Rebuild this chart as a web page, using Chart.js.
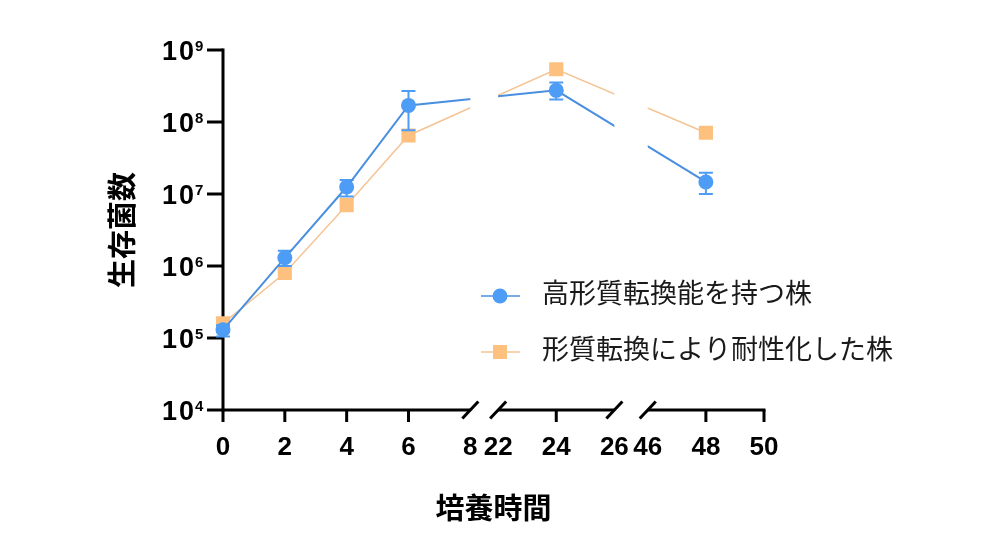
<!DOCTYPE html>
<html lang="ja">
<head>
<meta charset="utf-8">
<title>生存菌数</title>
<script src="https://cdn.jsdelivr.net/npm/chart.js@4.4.1/dist/chart.umd.min.js"></script>
<style>
  html, body { margin: 0; padding: 0; background: #fff; }
  #wrap { width: 1000px; height: 560px; }
</style>
</head>
<body>
<div id="wrap"><canvas id="survivalChart" width="1000" height="560"></canvas></div>
<script>
// Culture time (h) and viable counts
const hours = [0, 2, 4, 6, 24, 48];
const highStrain = [1.3e5, 1.3e6, 1.25e7, 1.7e8, 2.75e8, 1.47e7];
const highStrainUpper = [1.5e5, 1.63e6, 1.56e7, 2.7e8, 3.55e8, 1.98e7];
const highStrainLower = [1.05e5, 1.0e6, 9.2e6, 7.7e7, 2.05e8, 1.0e7];
const resistantStrain = [1.6e5, 8.0e5, 7.0e6, 6.5e7, 5.4e8, 7.1e7];

const seriesLabels = ['高形質転換能を持つ株', '形質転換により耐性化した株'];
const tickHours = [0, 2, 4, 6, 8, 22, 24, 26, 46, 48, 50];
const yExponents = [4, 5, 6, 7, 8, 9];

// Broken x axis: three pieces of the time axis laid side by side
const segments = [
    { from: 0, to: 8, start: 0, k: 1 },
    { from: 22, to: 26, start: 8.9, k: 0.94 },
    { from: 46, to: 50, start: 13.74, k: 0.94 }
];

function toAxis(h) {
    const seg = segments.find(s => h >= s.from && h <= s.to);
    return seg.start + (h - seg.from) * seg.k;
}

const BLUE_LINE = '#4a8fe0';
const BLUE_POINT = '#4d9cf5';
const ORANGE_LINE = '#f5c494';
const ORANGE_POINT = '#fdc07f';

const brokenAxis = {
    id: 'brokenAxis',
    beforeDatasetsDraw(chart) {
        const { ctx, chartArea, scales: { x, y } } = chart;
        ctx.save();
        ctx.strokeStyle = '#000';
        ctx.fillStyle = '#000';
        ctx.lineWidth = 3;

        // y axis + labels 10^n
        ctx.beginPath();
        ctx.moveTo(chartArea.left, chartArea.top - 1.5);
        ctx.lineTo(chartArea.left, chartArea.bottom + 1.5);
        ctx.stroke();
        yExponents.forEach(e => {
            const py = y.getPixelForValue(Math.pow(10, e));
            ctx.beginPath();
            ctx.moveTo(chartArea.left - 16, py);
            ctx.lineTo(chartArea.left, py);
            ctx.stroke();
            ctx.textBaseline = 'alphabetic';
            ctx.textAlign = 'right';
            ctx.font = 'bold 27px "Liberation Sans", Arial, sans-serif';
            if ('letterSpacing' in ctx) ctx.letterSpacing = '2px';
            ctx.fillText('10', chartArea.left - 27, py + 9.5);
            if ('letterSpacing' in ctx) ctx.letterSpacing = '0px';
            ctx.textAlign = 'left';
            ctx.font = 'bold 15px "Liberation Sans", Arial, sans-serif';
            ctx.fillText(String(e), chartArea.left - 28, py + 1);
        });

        // x axis pieces with break marks
        const base = chartArea.bottom;
        segments.forEach((s, i) => {
            const x0 = i === 0 ? chartArea.left : x.getPixelForValue(toAxis(s.from));
            const x1 = x.getPixelForValue(toAxis(s.to));
            ctx.beginPath();
            ctx.moveTo(x0, base);
            ctx.lineTo(i === segments.length - 1 ? x1 + 1.5 : x1, base);
            ctx.stroke();
            if (i > 0) drawSlash(ctx, x0, base);
            if (i < segments.length - 1) drawSlash(ctx, x1, base);
        });
        tickHours.forEach(h => {
            const inner = segments.some((s, i) =>
                (h === s.to && i < segments.length - 1) || (h === s.from && i > 0));
            if (inner) return;
            const px = x.getPixelForValue(toAxis(h));
            ctx.beginPath();
            ctx.moveTo(px, base);
            ctx.lineTo(px, base + 12);
            ctx.stroke();
        });
        ctx.restore();

        // hide the lines inside the breaks
        ctx.save();
        ctx.beginPath();
        segments.forEach((s, i) => {
            const x0 = i === 0 ? 0 : x.getPixelForValue(toAxis(s.from));
            const x1 = i === segments.length - 1 ? chart.width : x.getPixelForValue(toAxis(s.to));
            ctx.rect(x0, 0, x1 - x0, chart.height);
        });
        ctx.clip();
    },
    beforeDatasetDraw(chart, args) {
        if (args.index !== 0) return;
        const { ctx, scales: { x, y } } = chart;
        ctx.save();
        ctx.strokeStyle = BLUE_POINT;
        ctx.lineWidth = 2;
        hours.forEach((h, i) => {
            const px = x.getPixelForValue(toAxis(h));
            const top = y.getPixelForValue(highStrainUpper[i]);
            const bot = y.getPixelForValue(highStrainLower[i]);
            ctx.beginPath();
            ctx.moveTo(px, top); ctx.lineTo(px, bot);
            ctx.moveTo(px - 7, top); ctx.lineTo(px + 7, top);
            ctx.moveTo(px - 7, bot); ctx.lineTo(px + 7, bot);
            ctx.stroke();
        });
        ctx.restore();
    },
    afterDatasetsDraw(chart) {
        chart.ctx.restore();
    },
    afterDraw(chart) {
        // legend inside plot
        const { ctx } = chart;
        const rows = [296, 352];
        ctx.save();
        chart.data.datasets.forEach((ds, i) => {
            const cy = rows[i];
            ctx.strokeStyle = ds.borderColor;
            ctx.lineWidth = 1.5;
            ctx.beginPath();
            ctx.moveTo(481, cy);
            ctx.lineTo(520, cy);
            ctx.stroke();
            ctx.fillStyle = ds.pointBackgroundColor;
            if (ds.pointStyle === 'circle') {
                ctx.beginPath();
                ctx.arc(500, cy, 7.5, 0, Math.PI * 2);
                ctx.fill();
            } else {
                ctx.fillRect(493, cy - 7, 14, 14);
            }
            ctx.fillStyle = '#1a1a1a';
            ctx.font = '27px "Noto Sans CJK JP", sans-serif';
            ctx.textAlign = 'left';
            ctx.textBaseline = 'middle';
            ctx.fillText(ds.label, 542, cy - 3);
        });
        ctx.restore();
    }
};

function drawSlash(ctx, px, py) {
    ctx.beginPath();
    ctx.moveTo(px - 8, py + 8.5);
    ctx.lineTo(px + 8, py - 8.5);
    ctx.stroke();
}

const ctx = document.getElementById('survivalChart');

new Chart(ctx, {
    type: 'line',
    data: {
        datasets: [{
            label: seriesLabels[0],
            data: hours.map((h, i) => ({ x: toAxis(h), y: highStrain[i] })),
            borderColor: BLUE_LINE,
            borderWidth: 2,
            pointStyle: 'circle',
            pointRadius: 7.5,
            pointBackgroundColor: BLUE_POINT,
            pointBorderWidth: 0,
            tension: 0,
            clip: false
        }, {
            label: seriesLabels[1],
            data: hours.map((h, i) => ({ x: toAxis(h), y: resistantStrain[i] })),
            borderColor: ORANGE_LINE,
            borderWidth: 1.5,
            pointStyle: 'rect',
            pointRadius: 10,
            pointBackgroundColor: ORANGE_POINT,
            pointBorderWidth: 0,
            tension: 0,
            clip: false
        }]
    },
    options: {
        responsive: false,
        animation: false,
        layout: { padding: { top: 50, right: 236, bottom: 0, left: 0 } },
        plugins: {
            legend: { display: false },
            tooltip: { enabled: false }
        },
        scales: {
            x: {
                type: 'linear',
                min: 0,
                max: toAxis(50),
                grid: { display: false, drawTicks: false },
                border: { display: false },
                afterBuildTicks: scale => {
                    scale.ticks = tickHours.map(h => ({ value: toAxis(h) }));
                },
                afterFit: scale => { scale.height = 150; },
                ticks: {
                    autoSkip: false,
                    maxRotation: 0,
                    padding: 22,
                    color: '#000',
                    font: { family: '"Liberation Sans", Arial, sans-serif', size: 26, weight: 'bold' },
                    callback: (value, index) => String(tickHours[index])
                },
                title: {
                    display: true,
                    text: '培養時間',
                    color: '#000',
                    padding: { top: 0, bottom: 35 },
                    font: { family: '"Noto Sans CJK JP", sans-serif', size: 29, weight: 'bold' }
                }
            },
            y: {
                type: 'logarithmic',
                min: 1e4,
                max: 1e9,
                grid: { display: false, drawTicks: false },
                border: { display: false },
                ticks: { display: false },
                afterFit: scale => { scale.width = 223; },
                title: {
                    display: true,
                    text: '生存菌数',
                    color: '#000',
                    padding: { top: 105, bottom: 0 },
                    font: { family: '"Noto Sans CJK JP", sans-serif', size: 29, weight: 'bold' }
                }
            }
        }
    },
    plugins: [brokenAxis]
});
</script>
</body>
</html>
